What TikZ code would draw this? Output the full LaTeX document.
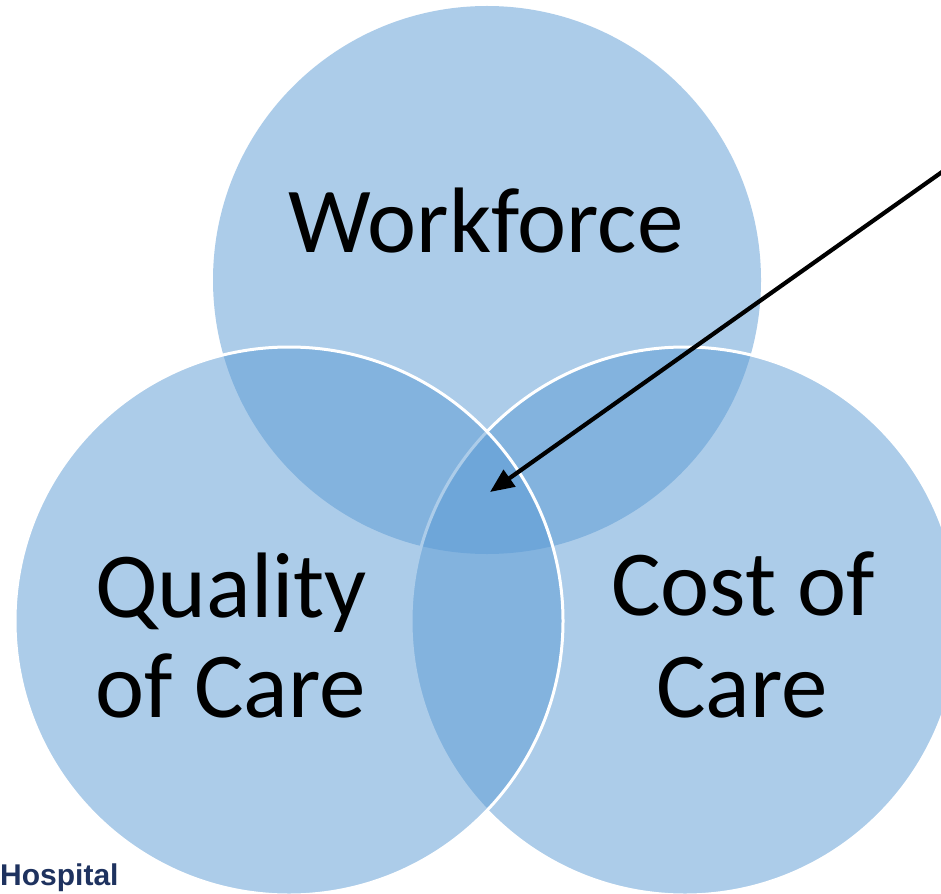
\documentclass[tikz,border=0pt]{standalone}
\usepackage{fontspec}
\setmainfont{Carlito}
\newfontfamily\logofont{Liberation Sans}
\usetikzlibrary{arrows.meta}
\definecolor{vennblue}{HTML}{5B9BD5}
\definecolor{logonavy}{RGB}{30,50,95}
\tikzset{
  venn/.style={circle, inner sep=0pt, minimum size=548pt, fill=vennblue, fill opacity=0.5},
  vennrim/.style={venn, draw=white, draw opacity=1, line width=3pt},
  label/.style={inner sep=0pt, anchor=base, text=black, font=\fontsize{93}{100}\selectfont},
  pointer/.style={draw=black, line width=4.2pt, -{Triangle[length=24pt,width=20pt]}}
}
\begin{document}
\begin{tikzpicture}[x=1pt, y=-1pt]
  \useasboundingbox (0,0) rectangle (941,893);
  \fill[white] (0,0) rectangle (941,893);
  \clip (0,0) rectangle (941,893);

  % the three overlapping circles
  \node[venn] (wf) at (487,280) {};
  \node[vennrim] (cost) at (685,621) {};
  \node[vennrim] (qual) at (289,621) {};

  % labels
  \node[label] (wftext) at (486,252) {Workforce};
  \node[label] (qual1) at (231,617) {Quality};
  \node[label] (qual2) at (231,717) {of Care};
  \node[label] (cost1) at (743,615) {Cost of};
  \node[label] (cost2) at (742,717) {Care};

  % arrow into the common overlap
  \coordinate (from) at (990,138);
  \coordinate (centre) at (490,492);
  \draw[pointer] (from) -- (centre);

  % logo fragment
  \node[inner sep=0pt, anchor=base west, text=logonavy,
        font=\logofont\bfseries\fontsize{30}{31}\selectfont] (logo) at (0,885) {Hospital};
\end{tikzpicture}
\end{document}
